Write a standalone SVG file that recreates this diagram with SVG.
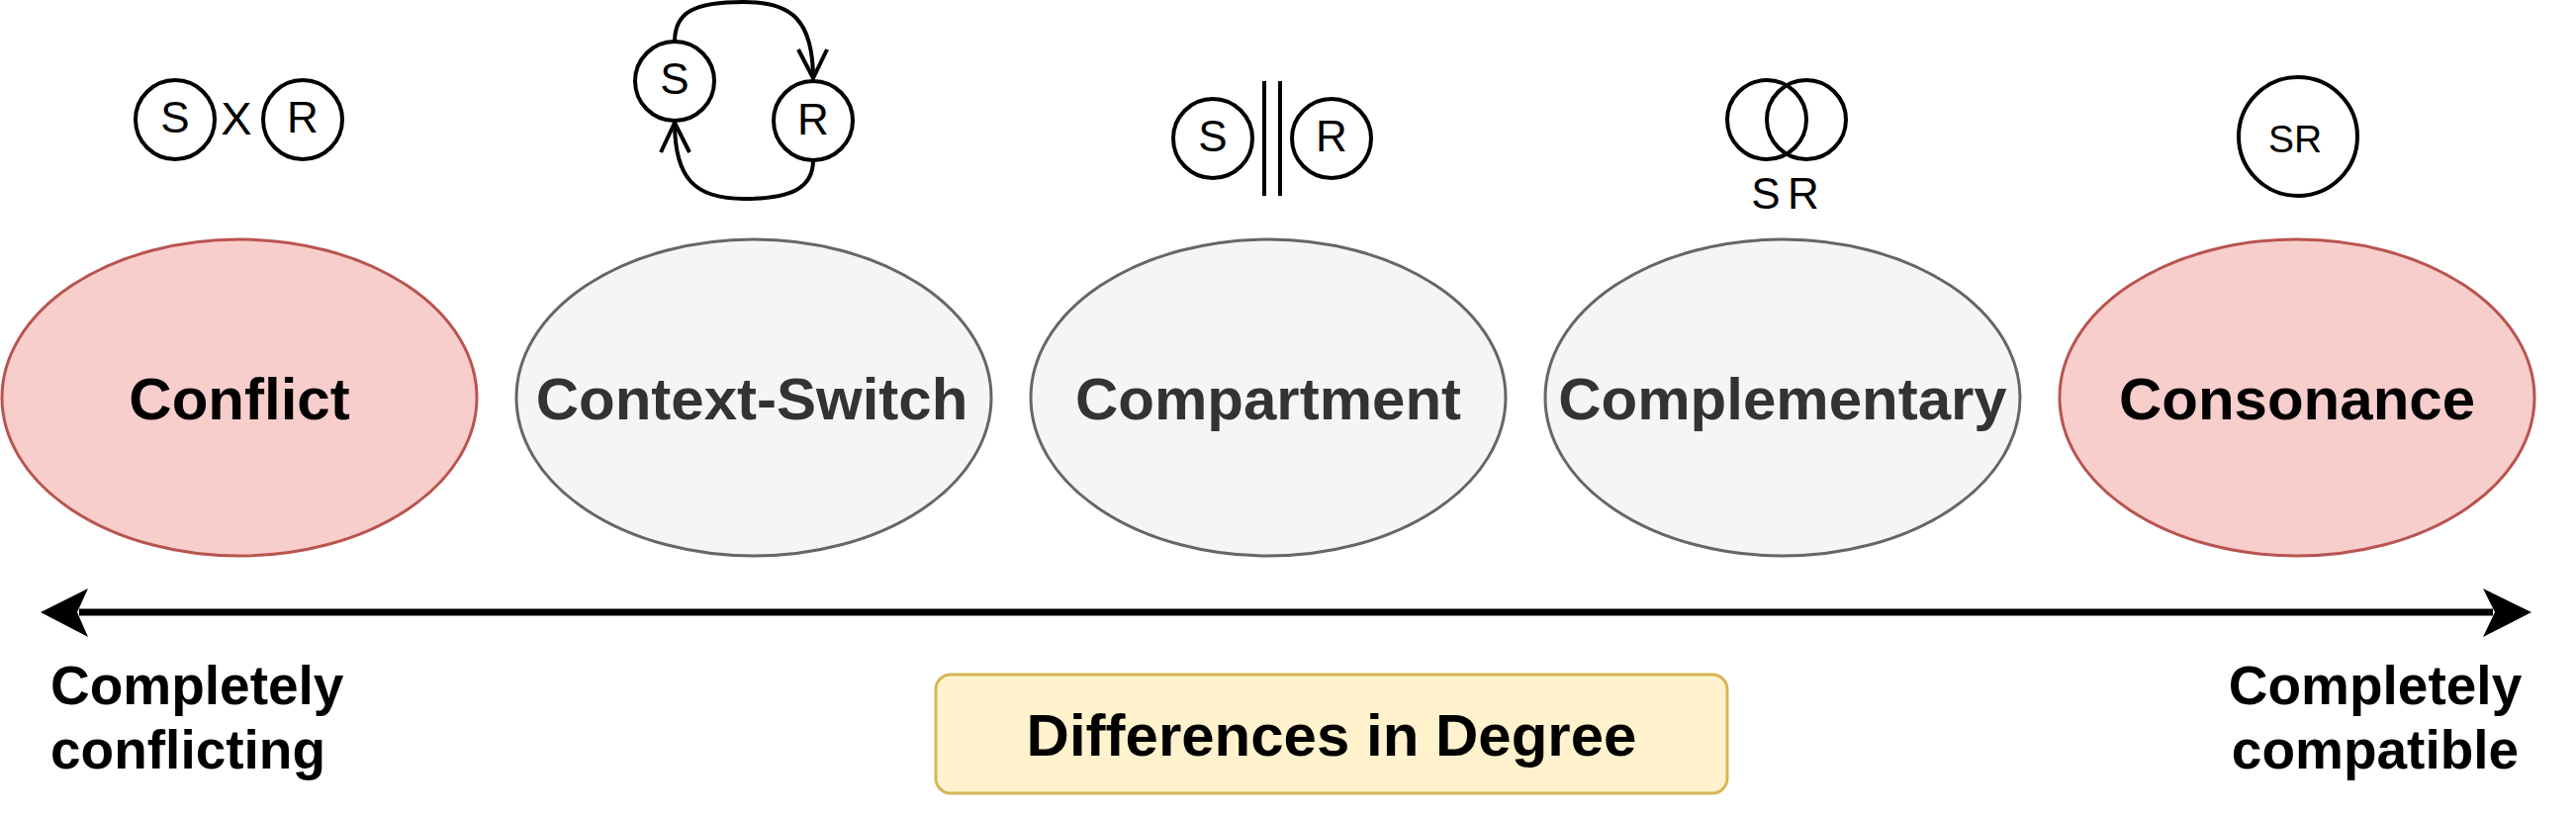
<svg xmlns="http://www.w3.org/2000/svg" width="2604" height="824" viewBox="0 0 2604 824">
<style>
text{font-family:"Liberation Sans",Arial,Helvetica,sans-serif}
.lbl{font-size:60px;font-weight:bold;text-anchor:middle}
.red{fill:#f8cecc;stroke:#b85450;stroke-width:3}
.gray{fill:#f5f5f5;stroke:#666666;stroke-width:3}
.dk{fill:#000000}
.gt{fill:#333333}
.ic{fill:none;stroke:#000;stroke-width:4}
.it{font-size:44px;text-anchor:middle;fill:#000}
.side{font-size:55px;font-weight:bold;fill:#000}
</style>
<rect width="2604" height="824" fill="#ffffff"/>
<g id="conflict">
<ellipse class="red" cx="242" cy="402" rx="240" ry="160"/>
<text class="lbl dk" x="242" y="424">Conflict</text>
</g>
<g id="context-switch">
<ellipse class="gray" cx="762" cy="402" rx="240" ry="160"/>
<text class="lbl gt" x="760" y="424">Context-Switch</text>
</g>
<g id="compartment">
<ellipse class="gray" cx="1282" cy="402" rx="240" ry="160"/>
<text class="lbl gt" x="1282" y="424">Compartment</text>
</g>
<g id="complementary">
<ellipse class="gray" cx="1802" cy="402" rx="240" ry="160"/>
<text class="lbl gt" x="1802" y="424">Complementary</text>
</g>
<g id="consonance">
<ellipse class="red" cx="2322" cy="402" rx="240" ry="160"/>
<text class="lbl dk" x="2322" y="424">Consonance</text>
</g>
<g id="icon-conflict">
<circle class="ic" cx="177" cy="121" r="40"/>
<text class="it" x="177" y="134">S</text>
<text class="it" x="239" y="136" style="font-size:47px">X</text>
<circle class="ic" cx="306" cy="121" r="40"/>
<text class="it" x="306" y="134">R</text>
</g>
<g id="icon-context-switch">
<circle class="ic" cx="682" cy="82" r="40"/>
<text class="it" x="682" y="95">S</text>
<circle class="ic" cx="822" cy="122" r="40"/>
<text class="it" x="822" y="136">R</text>
<path class="ic" d="M682 42 C682 12 702 2 752 2 C800 2 822 20 822 80"/>
<path class="ic" d="M807 50 L822 79 L836 50"/>
<path class="ic" d="M822 162 C822 190 800 201 752 201 C702 201 682 180 682 124"/>
<path class="ic" d="M668 154 L682 124 L697 154"/>
</g>
<g id="icon-compartment">
<circle class="ic" cx="1226" cy="140" r="40"/>
<text class="it" x="1226" y="153">S</text>
<line class="ic" x1="1278" y1="82" x2="1278" y2="198"/>
<line class="ic" x1="1294" y1="82" x2="1294" y2="198"/>
<circle class="ic" cx="1346" cy="140" r="40"/>
<text class="it" x="1346" y="153">R</text>
</g>
<g id="icon-complementary">
<circle class="ic" cx="1786" cy="121" r="40"/>
<circle class="ic" cx="1826" cy="121" r="40"/>
<text class="it" x="1785" y="211">S</text>
<text class="it" x="1823" y="211">R</text>
</g>
<g id="icon-consonance">
<circle class="ic" cx="2323" cy="138" r="60"/>
<text class="it" x="2320" y="154" style="font-size:39px">SR</text>
</g>
<g id="connectors">
<line x1="80" y1="619" x2="2520" y2="619" stroke="#000" stroke-width="7"/>
<polygon points="41,619 89,595 78,619 89,644" fill="#000"/>
<polygon points="2559,619 2510,595 2522,619 2510,644" fill="#000"/>
</g>
<g id="label-left">
<text class="side" x="51" y="712">Completely</text>
<text class="side" x="51" y="777">conflicting</text>
</g>
<g id="label-right">
<text class="side" x="2401" y="712" text-anchor="middle">Completely</text>
<text class="side" x="2401" y="777" text-anchor="middle">compatible</text>
</g>
<g id="degree">
<rect x="946" y="682" width="800" height="120" rx="15" ry="15" fill="#fff2cc" stroke="#d6b656" stroke-width="3"/>
<text class="lbl dk" x="1346" y="764">Differences in Degree</text>
</g>
</svg>
